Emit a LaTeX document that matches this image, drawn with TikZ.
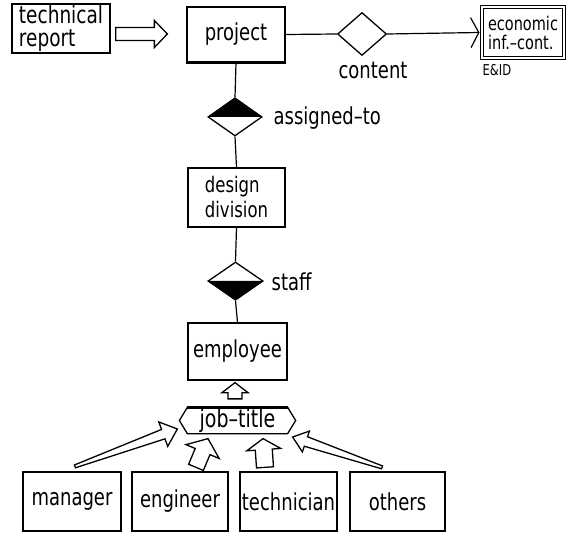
\documentclass[tikz,border=0pt]{standalone}
\usepackage{fontspec}
\setmainfont{DejaVu Sans}
\usetikzlibrary{shapes.geometric,arrows.meta,calc}

% text slightly stretched vertically, like a tall screen font
\newcommand\tl[1]{\scalebox{1}[1.3]{#1}}

% hollow block arrow: tail, tip, tail half-width, shaft half-width at head,
% head half-width, head length
\newcommand\hollowarrow[6]{%
  \coordinate (ha-b) at ($(#2)!#6!(#1)$);
  \draw[hollow] ($(#1)!#3!90:(#2)$) -- ($(ha-b)!#4!-90:(#1)$)
    -- ($(ha-b)!#5!-90:(#1)$) -- (#2) -- ($(ha-b)!#5!90:(#1)$)
    -- ($(ha-b)!#4!90:(#1)$) -- ($(#1)!#3!-90:(#2)$) -- cycle;
}

\begin{document}
\begin{tikzpicture}[x=1pt,y=-1pt,line width=1.3pt,
  box/.style={draw,rectangle,inner sep=0pt,font=\fontsize{18}{22}\selectfont},
  rel/.style={draw,diamond,inner sep=0pt},
  lbl/.style={inner sep=0pt,font=\fontsize{18}{22}\selectfont},
  hollow/.style={draw,fill=white,line width=1.3pt,line join=miter},
  conn/.style={draw,line width=1.2pt}]

\useasboundingbox[fill=white] (0,0) rectangle (578,534);

% --- top row
\node[box,minimum width=98pt,minimum height=49pt,align=left,
      font=\fontsize{18.5}{23}\selectfont] (rep) at (61,28.5)
      {\tl{technical}\\\tl{report}};
\node[box,minimum width=98pt,minimum height=55pt] (proj) at (236,34.5) {\tl{project}};
\draw[line width=2.4pt] (proj.south west) -- (proj.south east);
\node[rel,minimum width=49pt,minimum height=43pt] (cont) at (362,34) {};
\node[lbl] (contl) at (373,70) {\tl{content}};
\node[box,double,double distance=1.6pt,line width=1pt,minimum width=82pt,
      minimum height=51pt,align=left,font=\fontsize{14.5}{19}\selectfont]
      (econ) at (523,32.5) {\tl{economic}\\\tl{inf.--cont.}};
\node[lbl,anchor=west,font=\fontsize{11.5}{13}\selectfont] (eid) at (482,70) {\tl{E\&ID}};

% --- vertical chain
\node[rel,minimum width=54pt,minimum height=38pt] (asg) at (235,117) {};
\fill (asg.west) -- (asg.north) -- (asg.east) -- cycle;
\node[lbl,anchor=west] (asgl) at (273,118) {\tl{assigned--to}};

\node[box,minimum width=97pt,minimum height=59pt,align=left,
      font=\fontsize{16.5}{25}\selectfont] (dd) at (236.5,197.5)
      {\tl{design}\\\tl{division}};

\node[rel,minimum width=55pt,minimum height=38pt] (stf) at (235.5,281) {};
\fill (stf.west) -- (stf.south) -- (stf.east) -- cycle;
\node[lbl,anchor=west] (stfl) at (271,282) {\tl{staff}};

\node[box,minimum width=99pt,minimum height=57pt] (emp) at (237.5,351.5) {\tl{employee}};

% --- generalisation hexagon
\node[lbl,minimum width=115pt,minimum height=25pt,font=\fontsize{19}{22}\selectfont]
      (jt) at (237.5,420.5) {\tl{job--title}};
\draw (jt.west) -- ($(jt.north west)+(8,0)$) -- ($(jt.north east)+(-8,0)$)
  -- (jt.east) -- ($(jt.south east)+(-8,0)$) -- ($(jt.south west)+(8,0)$) -- cycle;
\draw[line width=2.4pt] ($(jt.north west)+(8,0)$) -- ($(jt.north east)+(-8,0)$);

% --- subtypes
\node[box,minimum width=98pt,minimum height=59pt] (mgr) at (72,501.5) {\tl{manager}};
\node[box,minimum width=96pt,minimum height=59pt] (eng) at (180,501.5) {\tl{engineer}};
\node[box,minimum width=97pt,minimum height=59pt] (tech) at (288.5,501.5) {\tl{technician}};
\node[box,minimum width=95pt,minimum height=59pt] (oth) at (397.5,501.5) {\tl{others}};

% --- connectors
\draw[conn] (proj.east) -- (cont.west);
\draw[conn,-{Straight Barb[length=8pt,width=30pt]}] (cont.east) -- ($(econ.west)+(-2,0)$);
\draw[conn] (proj.south) -- (asg.north);
\draw[conn] (asg.south) -- (dd.north);
\draw[conn] (dd.south) -- (stf.north);
\draw[conn] (stf.south) -- (emp.north);

% --- hollow arrows
\coordinate (r1) at ($(rep.east)+(5,5.5)$);
\coordinate (r2) at ($(proj.west)+(-19,-0.5)$);
\hollowarrow{r1}{r2}{6.5pt}{6.5pt}{13.5pt}{13pt}

\coordinate (e1) at ($(jt.north)+(-2.5,-8.5)$);
\coordinate (e2) at ($(emp.south)+(-2.5,2)$);
\hollowarrow{e1}{e2}{7pt}{7pt}{13pt}{10pt}

\coordinate (m1) at ($(mgr.north)+(3,-5)$);
\coordinate (m2) at ($(jt.west)+(-2,8.5)$);
\hollowarrow{m1}{m2}{1.5pt}{5pt}{13pt}{15pt}

\coordinate (g1) at ($(eng.north)+(16,-4)$);
\coordinate (g2) at ($(jt.south)+(-29.5,5)$);
\hollowarrow{g1}{g2}{8pt}{8pt}{18pt}{14pt}

\coordinate (t1) at ($(tech.north)+(-23.5,-4)$);
\coordinate (t2) at ($(jt.south)+(25.5,5)$);
\hollowarrow{t1}{t2}{8.5pt}{8.5pt}{17pt}{11pt}

\coordinate (o1) at ($(oth.north)+(-15.5,-4)$);
\coordinate (o2) at ($(jt.east)+(-3,16.5)$);
\hollowarrow{o1}{o2}{1.5pt}{5pt}{11pt}{14pt}
\end{tikzpicture}
\end{document}
